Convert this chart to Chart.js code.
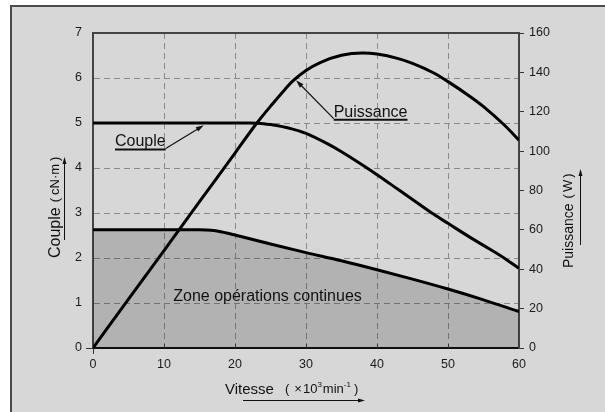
<!DOCTYPE html>
<html>
<head>
<meta charset="utf-8">
<script src="https://cdn.jsdelivr.net/npm/chart.js@4.4.1/dist/chart.umd.min.js"></script>
<style>
  html, body { margin: 0; padding: 0; background: #fff; }
  #wrap { width: 605px; height: 412px; }
</style>
</head>
<body>
<div id="wrap"><canvas id="c" width="605" height="412"></canvas></div>
<script>
// speed in 10^3 min^-1
var speedPower = [0, 5, 10, 15, 20, 23, 25, 27, 28, 30, 32, 35, 38, 40, 43, 45, 48, 50, 53, 55, 58, 60];
var powerW = [0, 24.8, 49.5, 74.3, 99, 113.9, 122.8, 131.2, 135.2, 141, 145, 148.7, 149.8, 149.3, 147, 144.6, 139.7, 135.3, 128, 122.6, 113, 105.6];

var speedTorque = [0, 10, 20, 22, 23, 24, 25, 28, 30, 33, 35, 38, 40, 43, 45, 48, 50, 53, 55, 58, 60];
var torque = [5, 5, 5, 5, 4.995, 4.985, 4.965, 4.87, 4.77, 4.54, 4.36, 4.06, 3.85, 3.52, 3.3, 2.97, 2.77, 2.47, 2.28, 1.99, 1.77];

var speedCont = [0, 10, 14, 15, 16, 17, 18, 19, 20, 25, 30, 35, 40, 45, 50, 55, 60];
var contTorque = [2.63, 2.63, 2.63, 2.628, 2.622, 2.61, 2.585, 2.55, 2.51, 2.31, 2.12, 1.94, 1.74, 1.53, 1.31, 1.07, 0.81];

var FONT = '"Liberation Sans", Arial, sans-serif';
Chart.defaults.font.family = FONT;
Chart.defaults.font.size = 12.5;
Chart.defaults.color = '#1a1a1a';

function pts(xs, ys) {
    return xs.map(function (x, i) { return { x: x, y: ys[i] }; });
}

function arrow(c, x1, y1, x2, y2, h, w) {
    var a = Math.atan2(y2 - y1, x2 - x1);
    h = h || 8; w = w || 2.5;
    c.beginPath();
    c.moveTo(x1, y1);
    c.lineTo(x2 - h * 0.7 * Math.cos(a), y2 - h * 0.7 * Math.sin(a));
    c.stroke();
    c.beginPath();
    c.moveTo(x2, y2);
    c.lineTo(x2 - h * Math.cos(a) + w * Math.sin(a), y2 - h * Math.sin(a) - w * Math.cos(a));
    c.lineTo(x2 - h * Math.cos(a) - w * Math.sin(a), y2 - h * Math.sin(a) + w * Math.cos(a));
    c.closePath();
    c.fill();
}

// draw a list of [text, size, dy, gapBefore] pieces along the baseline
function pieces(c, segs, x, y) {
    segs.forEach(function (s) {
        x += s[3];
        c.font = s[1] + 'px ' + FONT;
        c.fillText(s[0], x, y + s[2]);
        x += c.measureText(s[0]).width;
    });
}

var deco = {
    id: 'deco',
    beforeDraw: function (chart) {
        var c = chart.ctx;
        c.save();
        c.fillStyle = '#fff';
        c.fillRect(0, 0, 605, 412);
        c.fillStyle = '#d7d7d7';
        c.fillRect(11, 6, 594, 406);
        c.strokeStyle = '#4a4a4a';
        c.lineWidth = 2;
        c.beginPath();
        c.moveTo(11, 412); c.lineTo(11, 6); c.lineTo(605, 6);
        c.stroke();
        c.restore();
    },
    afterDraw: function (chart) {
        var c = chart.ctx, a = chart.chartArea;
        var xs = chart.scales.x, ys = chart.scales.y;
        var px = function (v) { return xs.getPixelForValue(v); };
        var py = function (v) { return ys.getPixelForValue(v); };
        c.save();
        // top frame of plot
        c.strokeStyle = '#444';
        c.lineWidth = 2;
        c.beginPath(); c.moveTo(a.left, a.top); c.lineTo(a.right, a.top); c.stroke();
        // inward ticks on x axis
        c.strokeStyle = '#333';
        c.lineWidth = 1;
        [10, 20, 30, 40, 50].forEach(function (v) {
            var x = Math.round(px(v)) + 0.5;
            c.beginPath(); c.moveTo(x, a.bottom); c.lineTo(x, a.bottom - 4); c.stroke();
        });
        // origin cross ticks
        c.beginPath();
        c.moveTo(a.left - 7, a.bottom + 0.5); c.lineTo(a.left, a.bottom + 0.5);
        c.moveTo(a.left + 0.5, a.bottom); c.lineTo(a.left + 0.5, a.bottom + 6);
        c.stroke();

        c.fillStyle = '#111';
        c.strokeStyle = '#111';
        c.textBaseline = 'alphabetic';
        c.textAlign = 'left';

        // Puissance label
        c.font = '16px ' + FONT;
        var lx = px(33.9), ly = py(5.14);
        var tw = c.measureText('Puissance').width;
        c.fillText('Puissance', lx, ly);
        c.lineWidth = 2;
        c.beginPath(); c.moveTo(lx, ly + 3); c.lineTo(lx + tw, ly + 3); c.stroke();
        c.lineWidth = 1.2;
        arrow(c, lx, ly + 2, px(28.6), py(5.95));

        // Couple label
        lx = px(3.1); ly = py(4.48);
        tw = c.measureText('Couple').width;
        c.fillText('Couple', lx, ly);
        c.lineWidth = 2;
        c.beginPath(); c.moveTo(lx, ly + 3); c.lineTo(lx + tw, ly + 3); c.stroke();
        c.lineWidth = 1.2;
        arrow(c, lx + tw, ly + 2, px(15.6), py(4.95));

        // zone label
        c.fillText('Zone opérations continues', px(11.3), py(1.05));

        // left axis title
        c.save();
        c.translate(60, 258);
        c.rotate(-Math.PI / 2);
        c.font = '16px ' + FONT;
        var w1 = c.measureText('Couple').width;
        c.fillText('Couple', 0, 0);
        pieces(c, [['(', 13, -1, 0], ['cN·m', 13, -1, 3], [')', 13, -1, 3]], w1 + 5, 0);
        c.restore();
        c.lineWidth = 1;
        arrow(c, 64.5, 240, 64.5, 157, 7, 2);

        // right axis title
        c.save();
        c.translate(573, 268);
        c.rotate(-Math.PI / 2);
        c.font = '14px ' + FONT;
        w1 = c.measureText('Puissance').width;
        c.fillText('Puissance', 0, 0);
        pieces(c, [['(', 13, -1, 0], ['W', 13, -1, 2], [')', 13, -1, 2]], w1 + 5, 0);
        c.restore();
        arrow(c, 580.5, 245, 580.5, 169, 7, 2);

        // x axis title
        c.font = '15px ' + FONT;
        c.fillText('Vitesse', 225, 394);
        pieces(c, [
            ['(', 13, 0, 0], ['×', 13, 0, 5], ['10', 13, 0, 1], ['3', 8, -6, 0],
            ['min', 13, 0, 1], ['-1', 8, -6, 0], [')', 13, 0, 3]
        ], 285, 393);
        arrow(c, 243, 400.5, 365, 400.5, 7, 2);
        c.restore();
    }
};

new Chart(document.getElementById('c'), {
    type: 'line',
    data: {
        datasets: [
            {
                label: 'Zone',
                data: pts(speedCont, contTorque),
                yAxisID: 'y',
                borderColor: '#000',
                borderWidth: 3,
                fill: 'origin',
                backgroundColor: 'rgba(0,0,0,0.17)',
                pointRadius: 0,
                cubicInterpolationMode: 'monotone'
            },
            {
                label: 'Couple',
                data: pts(speedTorque, torque),
                yAxisID: 'y',
                borderColor: '#000',
                borderWidth: 3,
                fill: false,
                pointRadius: 0,
                cubicInterpolationMode: 'monotone'
            },
            {
                label: 'Puissance',
                data: pts(speedPower, powerW),
                yAxisID: 'y2',
                borderColor: '#000',
                borderWidth: 3,
                fill: false,
                pointRadius: 0,
                cubicInterpolationMode: 'monotone'
            }
        ]
    },
    options: {
        responsive: false,
        animation: false,
        layout: { padding: { top: 33, left: 0, right: 0, bottom: 0 } },
        plugins: {
            legend: { display: false },
            tooltip: { enabled: false }
        },
        scales: {
            x: {
                type: 'linear',
                position: 'bottom',
                min: 0,
                max: 60,
                ticks: { stepSize: 10, padding: 9, color: '#1a1a1a' },
                grid: { color: '#8a8a8a', lineWidth: 1, drawTicks: false, tickBorderDash: [] },
                border: { color: '#111', width: 2, dash: [6, 4] },
                afterFit: function (s) { s.height = 64; }
            },
            y: {
                position: 'left',
                min: 0,
                max: 7,
                ticks: { stepSize: 1, padding: 11, color: '#1a1a1a' },
                grid: { color: '#8a8a8a', lineWidth: 1, drawTicks: false, tickBorderDash: [] },
                border: { color: '#444', width: 2, dash: [6, 4] },
                afterFit: function (s) { s.width = 93; }
            },
            y2: {
                position: 'right',
                min: 0,
                max: 160,
                ticks: { stepSize: 20, padding: 5, color: '#1a1a1a' },
                grid: { drawOnChartArea: false, color: '#333', tickLength: 5, tickBorderDash: [] },
                border: { color: '#444', width: 2 },
                afterFit: function (s) { s.width = 86; }
            }
        }
    },
    plugins: [deco]
});
</script>
</body>
</html>
